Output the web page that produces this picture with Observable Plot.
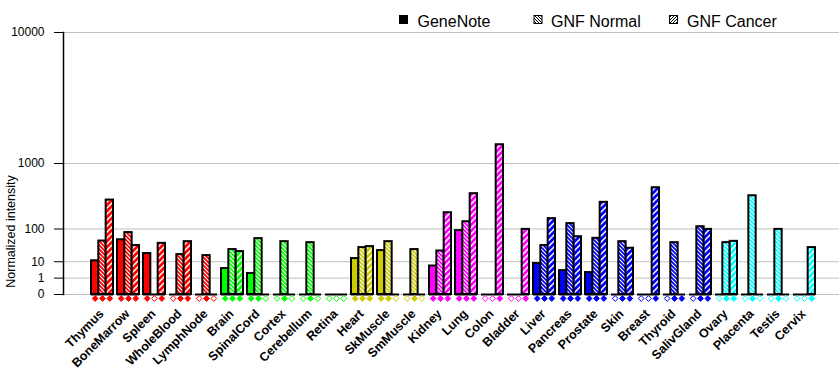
<!DOCTYPE html>
<html><head><meta charset="utf-8">
<script src="https://cdn.jsdelivr.net/npm/d3@7"></script>
<script src="https://cdn.jsdelivr.net/npm/@observablehq/plot@0.6"></script>
<style>
body{margin:0;background:#fff;}
#wrap{position:relative;width:840px;height:385px;font-family:"Liberation Sans",Arial,sans-serif;}
#legend{position:absolute;left:0;top:0;}
#chart svg{display:block;}
</style></head><body>
<svg width="0" height="0" style="position:absolute"><defs id="defs"></defs></svg>
<div id="wrap"><div id="chart"></div><svg id="legend" width="840" height="32"></svg></div>
<script>
const tissues = ["Thymus","BoneMarrow","Spleen","WholeBlood","LymphNode","Brain","SpinalCord","Cortex","Cerebellum","Retina","Heart","SkMuscle","SmMuscle","Kidney","Lung","Colon","Bladder","Liver","Pancreas","Prostate","Skin","Breast","Thyroid","SalivGland","Ovary","Placenta","Testis","Cervix"];
const palette = ["#ff0000","#00ff00","#cccc00","#ff00ff","#0000ff","#00ffff"];
const tissueGroup = [0,0,0,0,0, 1,1,1,1,1, 2,2,2, 3,3,3,3, 4,4,4,4,4,4,4, 5,5,5,5];
const seriesNames = ["GeneNote","GNF Normal","GNF Cancer"];
const geneNote  = [11,55,21,null,null, 4.6,2.3,null,null,null, 13.6,26.5,null, 6.3,92,null,null, 8.3,3.5,2.65,null,null,null,null, null,null,null,null];
const gnfNormal = [51,83,null,19.3,17.7, 28.6,59,49,46,null, 33,49,28.6, 25.7,142,null,null, 38,130,60,49,null,46,112, 46,391,98,null];
const gnfCancer = [337,38,44,49,null, 24.6,null,null,null,null, 35.3,null,null, 209,419,1560,98, 163,66,311,31.5,507,null,98, 50,null,null,33];
const genePresent   = [1,1,1,0,0, 1,1,0,0,0, 1,1,0, 1,1,0,0, 1,1,1,0,0,0,0, 0,0,0,0];
const normalPresent = [1,1,0,1,1, 1,1,1,1,0, 1,1,1, 1,1,0,0, 1,1,1,1,0,1,1, 1,1,1,0];
const cancerPresent = [1,1,1,1,0, 1,0,0,0,0, 1,0,0, 1,1,1,1, 1,1,1,1,1,1,1, 1,0,0,1];
const yTicks = [0,1,10,100,1000,10000];

// patterns
const defs = d3.select("#defs");
function addPatterns(id, color, fg) {
  const w = 4;
  const pn = defs.append("pattern").attr("id","n"+id).attr("patternUnits","userSpaceOnUse").attr("width",w).attr("height",w);
  pn.append("rect").attr("width",w).attr("height",w).attr("fill",color);
  pn.append("path").attr("d",`M${-w/2},${w/2}L${w/2},${1.5*w}M0,0L${w},${w}M${w/2},${-w/2}L${1.5*w},${w/2}`).attr("stroke",fg).attr("stroke-width",1.1);
  const c = 6;
  const pc = defs.append("pattern").attr("id","c"+id).attr("patternUnits","userSpaceOnUse").attr("width",c).attr("height",c);
  pc.append("rect").attr("width",c).attr("height",c).attr("fill","#fff");
  pc.append("path").attr("d",`M${-c/2},${c/2}L${c/2},${-c/2}M0,${c}L${c},0M${c/2},${1.5*c}L${1.5*c},${c/2}`).attr("stroke",color).attr("stroke-width",2.8);
}
palette.forEach((col,i)=>addPatterns(i,col,"#fff"));
// legend patterns
(function(){
  const pn = defs.append("pattern").attr("id","nK").attr("patternUnits","userSpaceOnUse").attr("width",3).attr("height",3);
  pn.append("rect").attr("width",3).attr("height",3).attr("fill","#fff");
  pn.append("path").attr("d","M-1.5,1.5L1.5,4.5M0,0L3,3M1.5,-1.5L4.5,1.5").attr("stroke","#000").attr("stroke-width",1);
  const pc = defs.append("pattern").attr("id","cK").attr("patternUnits","userSpaceOnUse").attr("width",3).attr("height",3);
  pc.append("rect").attr("width",3).attr("height",3).attr("fill","#fff");
  pc.append("path").attr("d","M-1.5,1.5L1.5,-1.5M0,3L3,0M1.5,4.5L4.5,1.5").attr("stroke","#000").attr("stroke-width",1);
})();

const rows = tissues.map((t,i)=>({
  tissue:t, g: tissueGroup[i], color: palette[tissueGroup[i]],
  gn: geneNote[i], nm: gnfNormal[i], ca: gnfCancer[i],
  gp: genePresent[i], np: normalPresent[i], cp: cancerPresent[i]
}));

const xRange = [88.3, 817.7];
const padInner = 0.16;
const bw = d3.scaleBand(tissues, xRange).paddingInner(padInner).paddingOuter(0).bandwidth();
const third = bw/3;

const barStyle = {stroke:"#000", strokeWidth:2};
const chart = Plot.plot({
  width: 840, height: 385,
  marginLeft: 63, marginRight: 1, marginTop: 32, marginBottom: 91,
  style: {fontFamily: '"Liberation Sans", Arial, sans-serif', fontSize: "12px", color: "#000", background: "#fff"},
  x: {type: "band", domain: tissues, range: xRange, paddingInner: padInner, paddingOuter: 0, axis: null},
  y: {type: "pow", exponent: Math.log10(2), domain: [0, 10000], axis: null},
  color: {type: "identity"},
  marks: [
    Plot.ruleY(yTicks, {stroke: "#c0c0c0", strokeWidth: 1}),
    Plot.axisY({ticks: yTicks, tickSize: 9, tickPadding: 10, tickFormat: d => String(d), label: null, fontSize: 12}),
    Plot.frame({anchor: "left", strokeWidth: 1.5}),
    Plot.barY(rows, {x: "tissue", y: "gn", fill: "color", insetRight: 2*third, ...barStyle}),
    Plot.barY(rows, {x: "tissue", y: "nm", fill: d => `url(#n${d.g})`, insetLeft: third, insetRight: third, ...barStyle}),
    Plot.barY(rows, {x: "tissue", y: "ca", fill: d => `url(#c${d.g})`, insetLeft: 2*third, ...barStyle}),
    Plot.tickY(rows, {x: "tissue", y: () => 0, stroke: "#000", strokeWidth: 2}),
    Plot.dot(rows, {x: "tissue", frameAnchor: "bottom", dx: -third, dy: 4, symbol: "diamond2", r: 2.6, fill: d => d.gp ? d.color : "#fff", stroke: "color", strokeWidth: 1}),
    Plot.dot(rows, {x: "tissue", frameAnchor: "bottom", dy: 4, symbol: "diamond2", r: 2.6, fill: d => d.np ? d.color : "#fff", stroke: "color", strokeWidth: 1}),
    Plot.dot(rows, {x: "tissue", frameAnchor: "bottom", dx: third, dy: 4, symbol: "diamond2", r: 2.6, fill: d => d.cp ? d.color : "#fff", stroke: "color", strokeWidth: 1}),
    Plot.text(rows, {x: "tissue", text: "tissue", frameAnchor: "bottom", dx: 2, dy: 20, rotate: -45, textAnchor: "end", fontWeight: "bold", fontSize: 12.5, fill: "#000"}),
    Plot.text(["Normalized intensity"], {frameAnchor: "bottom-left", dx: -49, dy: -63, rotate: -90, textAnchor: "middle", fontSize: 12.5, fill: "#000"})
  ]
});
document.getElementById("chart").appendChild(chart);

// legend
const lg = d3.select("#legend");
const items = [
  {name: seriesNames[0], fill: "#000", x: 399.5, tx: 417.5},
  {name: seriesNames[1], fill: "url(#nK)", x: 534, tx: 551},
  {name: seriesNames[2], fill: "url(#cK)", x: 669.5, tx: 687}
];
items.forEach(it => {
  lg.append("rect").attr("x", it.x).attr("y", 15.5).attr("width", 8).attr("height", 8).attr("fill", it.fill).attr("stroke", "#000").attr("stroke-width", 1);
  lg.append("text").attr("x", it.tx).attr("y", 26.5).attr("font-size", 16).attr("font-family", '"Liberation Sans", Arial, sans-serif').attr("fill","#000").text(it.name);
});
</script>
</body></html>
